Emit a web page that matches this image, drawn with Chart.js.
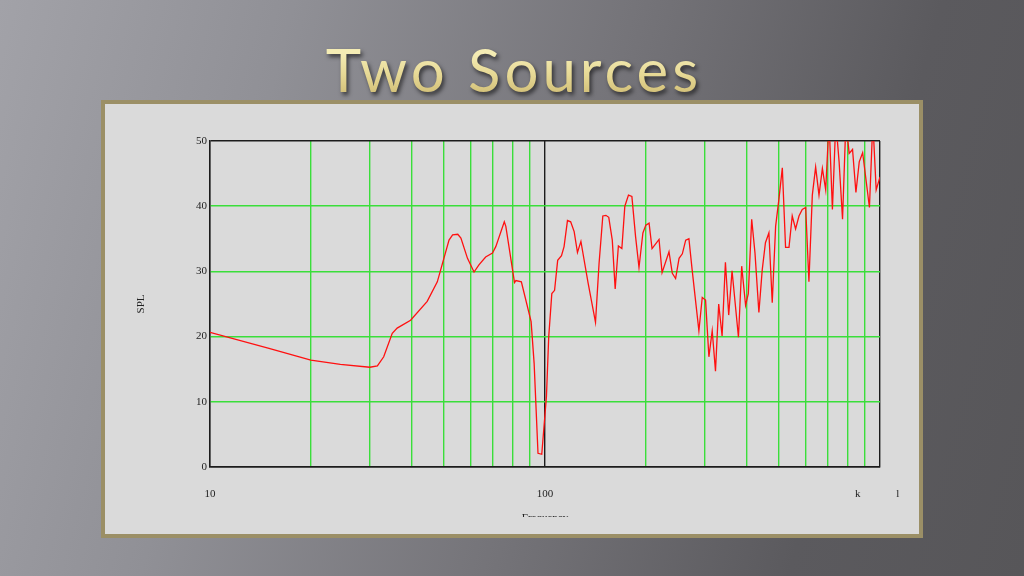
<!DOCTYPE html>
<html>
<head>
<meta charset="utf-8">
<script src="https://cdn.jsdelivr.net/npm/chart.js@4/dist/chart.umd.min.js"></script>
<style>
  html, body { margin: 0; padding: 0; }
  body {
    width: 1024px; height: 576px; overflow: hidden; position: relative;
    background: linear-gradient(105deg, #a2a2a8 0%, #909096 25%, #747378 55%, #5b5a5e 80%, #575659 100%);
    font-family: 'Liberation Serif', serif;
  }
  .title {
    position: absolute; left: 0; width: 1020px; padding-left: 4px; top: 39px; line-height: 60px;
    text-align: center; font-family: 'Lato', sans-serif; font-size: 60px; letter-spacing: 4px;
    background: linear-gradient(#f4ecb4 25%, #e6d894 60%, #cdb970 100%);
    -webkit-background-clip: text; background-clip: text; color: transparent;
    filter: drop-shadow(2px 3px 2px rgba(0,0,0,0.6));
  }
  .panel {
    position: absolute; left: 101px; top: 100px; width: 822px; height: 438px;
    box-sizing: border-box; border: 4px solid #9b8f66; background: #dadada;
  }
  .clip { position: absolute; left: 0; top: 0; width: 814px; height: 413px; overflow: hidden; }
  .box { position: relative; width: 814px; height: 440px; }
</style>
</head>
<body>
<div class="title">Two Sources</div>
<div class="panel">
  <div class="clip"><div class="box"><canvas id="spl"></canvas></div></div>
</div>
<script>
// frequency (Hz) and level
const freqs = [10, 15, 20, 24.5, 30, 31.6, 33, 35, 36.2, 39.7,
  44.5, 47.7, 51.7, 53, 54.9, 56.1, 58.7, 61.4, 63.5, 66.5,
  69.7, 71.3, 75.6, 76.4, 81.1, 81.9, 85, 90.9, 92.8, 95.3,
  97.8, 101, 102.6, 104.8, 106.8, 109.1, 112, 114, 116.7, 119.3,
  122.2, 125, 128, 134.5, 141.5, 145, 148.8, 152, 155, 158.8,
  162, 165.6, 169.6, 173.1, 177.5, 181.7, 186.4, 190.8, 196, 200,
  204.5, 208.7, 219, 223.6, 234.5, 239.9, 245.4, 251.3, 257, 263,
  268.9, 275, 288, 294.7, 301.5, 308.5, 315.6, 322.8, 330, 337.8,
  345.6, 353.5, 361.7, 378, 386.5, 397, 404.5, 414, 423.5, 435,
  445, 455, 466, 476.8, 488, 499.5, 511, 522.5, 535, 547,
  559.8, 573, 586, 600, 613.5, 628, 642.5, 657.5, 673, 688.5,
  704.6, 721, 738, 755, 773, 791, 809, 828, 847.5, 867,
  887.6, 930, 952, 974, 1000];
const spl = [20.65, 18.2, 16.4, 15.75, 15.3, 15.5, 16.9, 20.5, 21.3, 22.5,
  25.4, 28.4, 34.8, 35.6, 35.7, 35.1, 32.0, 29.9, 31.0, 32.2,
  32.8, 33.8, 37.6, 36.9, 28.3, 28.6, 28.4, 22.3, 15.9, 2.1,
  1.95, 10.8, 20.0, 26.6, 27.1, 31.7, 32.4, 33.8, 37.8, 37.6,
  36.1, 32.9, 34.6, 28.2, 22.2, 31.2, 38.5, 38.6, 38.3, 34.8,
  27.3, 33.9, 33.5, 40.0, 41.7, 41.5, 35.3, 30.6, 35.9, 37.1,
  37.4, 33.5, 34.9, 29.8, 33.0, 29.7, 28.9, 32.0, 32.7, 34.8,
  35.0, 30.2, 20.9, 26.0, 25.6, 16.9, 20.9, 14.7, 25.0, 20.1,
  31.4, 23.3, 30.1, 19.9, 30.8, 24.8, 26.6, 38.0, 32.8, 23.7,
  30.2, 34.4, 35.9, 25.2, 36.9, 41.2, 45.9, 33.7, 33.7, 38.5,
  36.5, 38.5, 39.5, 39.8, 28.4, 41.7, 46.0, 41.7, 45.8, 42.5,
  53, 39.5, 53, 46.8, 38.0, 53, 48.1, 48.7, 42.1, 46.8,
  48.2, 39.8, 53, 42.5, 44.5];

// grid positions and labels
const xGridValues = [10, 20, 30, 40, 50, 60, 70, 80, 90, 100,
  200, 300, 400, 500, 600, 700, 800, 900, 1000];
const xLabels = { 10: '10', 100: '100', 1000: 'k             l  ' };
const yTicks = [0, 10, 20, 30, 40, 50];

const GREEN = '#3ade3a';
const DARK = '#1c1c1c';
const tickFont = { family: 'Liberation Serif', size: 11 };

new Chart(document.getElementById('spl'), {
  type: 'line',
  data: {
    datasets: [{
      data: freqs.map((f, i) => ({ x: f, y: spl[i] })),
      borderColor: '#ff1010',
      borderWidth: 1.3,
      pointRadius: 0,
      tension: 0,
      fill: false
    }]
  },
  options: {
    responsive: true,
    maintainAspectRatio: false,
    animation: false,
    layout: { padding: { left: 0, right: 39, top: 37, bottom: 0 } },
    plugins: { legend: { display: false }, tooltip: { enabled: false } },
    scales: {
      x: {
        type: 'logarithmic',
        min: 10, max: 1000,
        afterBuildTicks: s => { s.ticks = xGridValues.map(v => ({ value: v })); },
        afterFit: s => { s.height = 77; s.paddingLeft = 0; s.paddingRight = 0; },
        ticks: {
          autoSkip: false, maxRotation: 0, padding: 21,
          color: '#222', font: tickFont,
          callback: v => xLabels[v] || ''
        },
        grid: {
          drawTicks: false,
          lineWidth: 1.4,
          color: c => (c.tick && [10, 100, 1000].includes(c.tick.value)) ? DARK : GREEN
        },
        border: { color: DARK, width: 1.4 },
        title: {
          display: true, text: 'Frequency', color: '#222',
          font: { family: 'Liberation Serif', size: 11, lineHeight: 1 },
          padding: { top: 0, bottom: 20 }
        }
      },
      y: {
        min: 0, max: 50,
        afterBuildTicks: s => { s.ticks = yTicks.map(v => ({ value: v })); },
        afterFit: s => { s.width = 105; s.paddingTop = 0; s.paddingBottom = 0; },
        ticks: { padding: 3, color: '#222', font: tickFont },
        grid: {
          drawTicks: false,
          lineWidth: 1.4,
          color: c => (c.tick && (c.tick.value === 0 || c.tick.value === 50)) ? DARK : GREEN
        },
        border: { color: DARK, width: 1.4 },
        title: {
          display: true, text: 'SPL', color: '#222',
          font: { family: 'Liberation Serif', size: 11, lineHeight: 1 },
          padding: { top: 31, bottom: 0 }
        }
      }
    }
  }
});
</script>
</body>
</html>
